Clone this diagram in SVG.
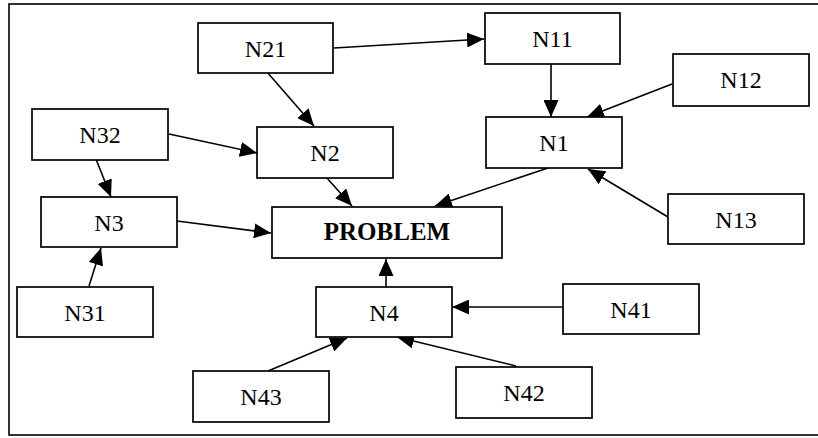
<svg xmlns="http://www.w3.org/2000/svg" width="818" height="438" viewBox="0 0 818 438">
  <style>
    .box { fill: #ffffff; stroke: #000000; stroke-width: 1.7; }
    .lbl { font-family: "Liberation Serif", "Times New Roman", serif; font-size: 24px; text-anchor: middle; fill: #000000; }
    .bold { font-weight: bold; font-size: 25px; }
    .edge { stroke: #000000; stroke-width: 1.6; fill: none; marker-end: url(#arrow); }
  </style>
  <defs>
    <marker id="arrow" markerUnits="userSpaceOnUse" markerWidth="17" markerHeight="15" viewBox="0 0 17 15" refX="17" refY="7.5" orient="auto">
      <path d="M0,0 L17,7.5 L0,15 Z" fill="#000000"/>
    </marker>
  </defs>

  <rect x="0" y="0" width="818" height="438" fill="#ffffff"/>
  <!-- outer frame -->
  <rect x="9" y="4" width="820" height="431" fill="none" stroke="#000000" stroke-width="1.6"/>

  <g id="connectors">
    <line class="edge" x1="334" y1="48" x2="484" y2="39"/>
    <line class="edge" x1="267" y1="72" x2="314" y2="126"/>
    <line class="edge" x1="169" y1="134" x2="257" y2="153"/>
    <line class="edge" x1="96" y1="159" x2="111" y2="197"/>
    <line class="edge" x1="326" y1="177" x2="352" y2="206"/>
    <line class="edge" x1="551" y1="63" x2="551" y2="117"/>
    <line class="edge" x1="672" y1="84" x2="587" y2="117"/>
    <line class="edge" x1="548" y1="168" x2="435" y2="206"/>
    <line class="edge" x1="668" y1="217" x2="588" y2="169"/>
    <line class="edge" x1="177" y1="221" x2="271" y2="233"/>
    <line class="edge" x1="89" y1="286" x2="101" y2="248"/>
    <line class="edge" x1="386" y1="287" x2="386" y2="259"/>
    <line class="edge" x1="563" y1="307" x2="452" y2="307"/>
    <line class="edge" x1="516" y1="366" x2="397" y2="337"/>
    <line class="edge" x1="268" y1="371" x2="347" y2="338"/>
  </g>

  <g id="N21"><rect class="box" x="198" y="23" width="135" height="50"/><text class="lbl" x="265.5" y="56.5">N21</text></g>
  <g id="N11"><rect class="box" x="485" y="13" width="135" height="51"/><text class="lbl" x="552.5" y="47">N11</text></g>
  <g id="N12"><rect class="box" x="673" y="54" width="136" height="52"/><text class="lbl" x="741" y="88">N12</text></g>
  <g id="N1"><rect class="box" x="486" y="117" width="136" height="51"/><text class="lbl" x="554" y="151">N1</text></g>
  <g id="N32"><rect class="box" x="32" y="109" width="136" height="51"/><text class="lbl" x="100" y="143">N32</text></g>
  <g id="N2"><rect class="box" x="257" y="127" width="136" height="51"/><text class="lbl" x="325" y="161">N2</text></g>
  <g id="N3"><rect class="box" x="41" y="197" width="136" height="50"/><text class="lbl" x="109" y="230.5">N3</text></g>
  <g id="PROBLEM"><rect class="box" x="272" y="207" width="230" height="51"/><text class="lbl bold" x="387" y="240">PROBLEM</text></g>
  <g id="N13"><rect class="box" x="668" y="194" width="136" height="50"/><text class="lbl" x="736" y="227.5">N13</text></g>
  <g id="N31"><rect class="box" x="17" y="287" width="136" height="50"/><text class="lbl" x="85" y="320.5">N31</text></g>
  <g id="N4"><rect class="box" x="316" y="287" width="136" height="50"/><text class="lbl" x="384" y="320.5">N4</text></g>
  <g id="N41"><rect class="box" x="563" y="284" width="136" height="50"/><text class="lbl" x="631" y="317.5">N41</text></g>
  <g id="N43"><rect class="box" x="193" y="371" width="136" height="51"/><text class="lbl" x="261" y="405">N43</text></g>
  <g id="N42"><rect class="box" x="456" y="367" width="136" height="51"/><text class="lbl" x="524" y="401">N42</text></g>
</svg>
